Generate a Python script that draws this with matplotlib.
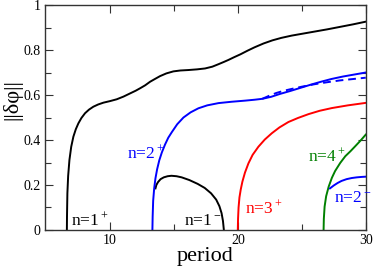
import numpy as np
import matplotlib
matplotlib.use("Agg")
import matplotlib.pyplot as plt
from matplotlib.ticker import FixedLocator, FuncFormatter

# data
black_plus_x = [6.62, 6.63, 6.66, 6.72, 6.82, 6.96, 7.13, 7.32, 7.52, 7.76, 8.04, 8.35,
                8.69, 9.07, 9.48, 10.0, 10.52, 11.05, 11.56, 12.0, 12.35, 12.74, 13.13,
                13.5, 13.91, 14.4, 14.95, 15.5, 16.12, 16.8, 17.43, 18.0, 18.48, 18.9,
                19.26, 19.7, 20.2, 20.75, 21.3, 22.0, 22.7, 23.4, 24.2, 25.0, 25.9, 27.0,
                28.0, 29.0, 30.0]
black_plus_y = [0, 0.06, 0.163, 0.24, 0.311, 0.37, 0.415, 0.448, 0.474, 0.498, 0.519,
                0.535, 0.548, 0.558, 0.566, 0.573, 0.581, 0.593, 0.607, 0.619, 0.63,
                0.643, 0.659, 0.671, 0.684, 0.696, 0.705, 0.709, 0.711, 0.714, 0.718,
                0.726, 0.737, 0.747, 0.756, 0.768, 0.781, 0.797, 0.812, 0.829, 0.843,
                0.854, 0.864, 0.872, 0.881, 0.892, 0.903, 0.914, 0.926]

black_minus_x = [13.55, 13.62, 13.75, 13.95, 14.2, 14.5, 14.8, 15.2, 15.6, 16.2, 16.85,
                 17.4, 17.9, 18.3, 18.55, 18.72, 18.83, 18.9]
black_minus_y = [0.185, 0.2, 0.213, 0.226, 0.234, 0.239, 0.241, 0.239, 0.234, 0.222,
                 0.205, 0.187, 0.163, 0.135, 0.106, 0.075, 0.04, 0]

blue_plus_x = [13.31, 13.33, 13.37, 13.45, 13.55, 13.68, 13.85, 14.05, 14.3, 14.55, 14.83,
               15.25, 15.74, 16.3, 16.91, 17.6, 18.48, 19.5, 20.56, 21.3, 21.9, 22.6,
               23.3, 24.1, 24.9, 25.7, 26.5, 27.3, 28.2, 29.1, 30.0]
blue_plus_y = [0, 0.06, 0.13, 0.185, 0.23, 0.27, 0.31, 0.345, 0.38, 0.41, 0.435, 0.47,
               0.5, 0.523, 0.541, 0.554, 0.564, 0.57, 0.575, 0.579, 0.583, 0.592, 0.605,
               0.618, 0.632, 0.646, 0.659, 0.671, 0.682, 0.691, 0.70]

blue_dash_x = [21.9, 22.5, 23.0, 23.6, 24.2, 25.0, 26.0, 27.0, 28.0, 29.0, 30.0]
blue_dash_y = [0.583, 0.598, 0.609, 0.619, 0.627, 0.637, 0.648, 0.657, 0.665, 0.671, 0.677]

red_plus_x = [19.99, 20.01, 20.05, 20.12, 20.22, 20.35, 20.55, 20.82, 21.15, 21.6, 22.1,
              22.65, 23.25, 23.95, 24.7, 25.52, 26.4, 27.35, 28.6, 30.0]
red_plus_y = [0, 0.05, 0.1, 0.145, 0.18, 0.215, 0.255, 0.296, 0.334, 0.37, 0.402, 0.43,
              0.456, 0.48, 0.498, 0.515, 0.53, 0.542, 0.554, 0.565]

green_plus_x = [26.7, 26.72, 26.78, 26.9, 27.1, 27.35, 27.6, 28.0, 28.4, 28.8, 29.17,
                29.6, 30.0]
green_plus_y = [0, 0.05, 0.104, 0.15, 0.193, 0.232, 0.262, 0.298, 0.328, 0.35, 0.372,
                0.398, 0.424]

blue_minus_x = [27.2, 27.5, 27.8, 28.1, 28.5, 28.9, 29.3, 29.7, 30.0]
blue_minus_y = [0.185, 0.198, 0.209, 0.218, 0.226, 0.231, 0.234, 0.236, 0.237]

labels = [r'n=1$^+$', r'n=2$^+$', r'n=1$^-$', r'n=3$^+$', r'n=4$^+$', r'n=2$^-$']
label_x = [6.95, 11.33, 15.8, 20.55, 25.45, 27.5]
label_y = [0.022, 0.32, 0.022, 0.074, 0.304, 0.126]
label_colors = ['black', 'blue', 'black', 'red', 'green', 'blue']

plt.rcParams['font.family'] = ['Liberation Serif', 'DejaVu Serif']
plt.rcParams['mathtext.fontset'] = 'custom'
plt.rcParams['mathtext.rm'] = 'Liberation Serif'
plt.rcParams['mathtext.it'] = 'Liberation Serif:italic'

fig = plt.figure(figsize=(3.74, 2.67), dpi=100)
ax = fig.add_axes([0.120, 0.1386, 0.858, 0.8426])

lw = 1.4
ax.plot(black_plus_x, black_plus_y, color='black', lw=lw)
ax.plot(black_minus_x, black_minus_y, color='black', lw=lw)
ax.plot(blue_plus_x, blue_plus_y, color='blue', lw=lw)
ax.plot(blue_dash_x, blue_dash_y, color='blue', lw=lw, ls=(0, (4, 2.5)))
ax.plot(red_plus_x, red_plus_y, color='red', lw=lw)
ax.plot(green_plus_x, green_plus_y, color='green', lw=lw)
ax.plot(blue_minus_x, blue_minus_y, color='blue', lw=lw)

for t, x, y, c in zip(labels, label_x, label_y, label_colors):
    ax.text(x, y, t, color=c, fontsize=12.5, ha='left', va='baseline')

ax.set_xlim(4.9, 30)
ax.set_ylim(0, 1)
ax.xaxis.set_major_locator(FixedLocator([10, 20, 30]))
ax.xaxis.set_minor_locator(FixedLocator([15, 25]))
ax.yaxis.set_major_locator(FixedLocator([0, 0.2, 0.4, 0.6, 0.8, 1.0]))
ax.yaxis.set_minor_locator(FixedLocator([0.1, 0.3, 0.5, 0.7, 0.9]))
ax.yaxis.set_major_formatter(FuncFormatter(lambda v, p: '%g' % v))
ax.tick_params(which='both', direction='in', top=True, right=True, labelsize=10,
               width=0.8, colors='#333333', labelcolor='black')
ax.tick_params(which='major', length=6, pad=3)
ax.tick_params(which='minor', length=4)
for s in ax.spines.values():
    s.set_linewidth(1.0)
    s.set_color('#333333')

ax.set_xlabel('period', fontsize=16, labelpad=0)
ax.set_ylabel('||δφ||', fontsize=16, labelpad=2)
ax.yaxis.set_label_coords(-0.07, 0.58)

fig.savefig('out.png', dpi=100)
